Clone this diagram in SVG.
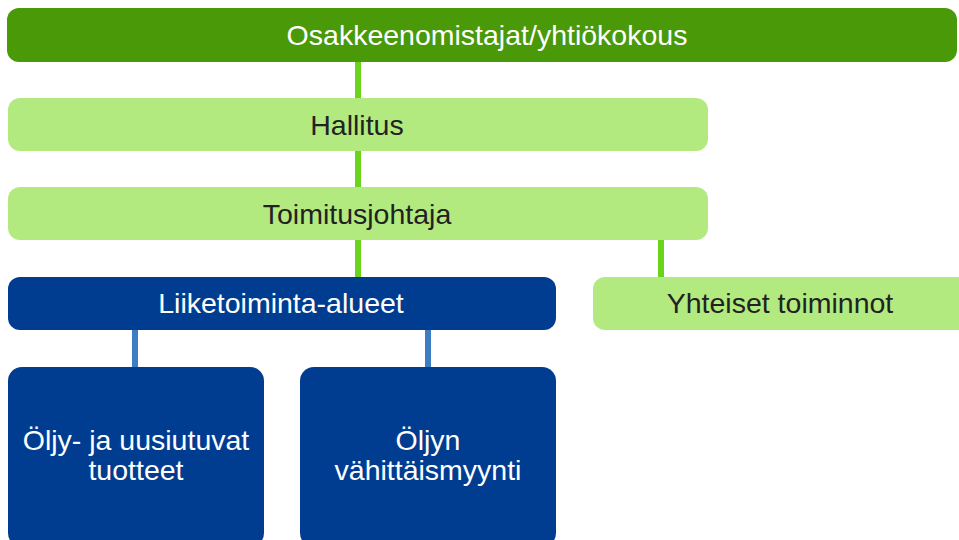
<svg xmlns="http://www.w3.org/2000/svg" width="959" height="540" viewBox="0 0 959 540">
<style>
.t{font-family:"Liberation Sans",Arial,sans-serif;font-size:28.5px;text-anchor:middle;dominant-baseline:central}
.w{fill:#ffffff}.d{fill:#222222}
.lg{fill:#b3ea80}.dg{fill:#4a9908}.db{fill:#003d91}
.cg{stroke:#6ad41c;stroke-width:6;fill:none}.cb{stroke:#3d7dc3;stroke-width:6;fill:none}
</style>
<rect width="959" height="540" fill="#ffffff"/>
<g id="connectors">
<line class="cg" x1="358" y1="62" x2="358" y2="98"/>
<line class="cg" x1="358" y1="151" x2="358" y2="187"/>
<line class="cg" x1="358" y1="240" x2="358" y2="277"/>
<line class="cg" x1="661" y1="240" x2="661" y2="277"/>
<line class="cb" x1="135" y1="330" x2="135" y2="367"/>
<line class="cb" x1="428" y1="330" x2="428" y2="367"/>
</g>
<g id="n1"><rect class="dg" x="7" y="8" width="950" height="54" rx="12"/><text class="t w" x="487" y="35">Osakkeenomistajat/yhtiökokous</text></g>
<g id="n2"><rect class="lg" x="8" y="98" width="700" height="53" rx="12"/><text class="t d" x="357" y="125">Hallitus</text></g>
<g id="n3"><rect class="lg" x="8" y="187" width="700" height="53" rx="12"/><text class="t d" x="357" y="214">Toimitusjohtaja</text></g>
<g id="n4"><rect class="db" x="8" y="277" width="548" height="53" rx="12"/><text class="t w" x="281" y="303">Liiketoiminta-alueet</text></g>
<g id="n5"><rect class="lg" x="593" y="277" width="380" height="53" rx="12"/><text class="t d" x="780" y="303">Yhteiset toiminnot</text></g>
<g id="n6"><rect class="db" x="8" y="367" width="256" height="180" rx="14"/><text class="t w" x="136" y="440">Öljy- ja uusiutuvat</text><text class="t w" x="136" y="470">tuotteet</text></g>
<g id="n7"><rect class="db" x="300" y="367" width="256" height="180" rx="14"/><text class="t w" x="428" y="440">Öljyn</text><text class="t w" x="428" y="470">vähittäismyynti</text></g>
</svg>
